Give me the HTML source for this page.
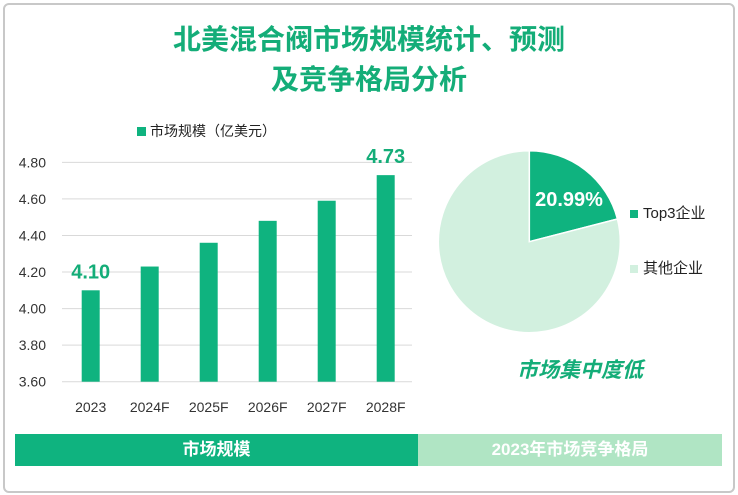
<!DOCTYPE html>
<html><head><meta charset="utf-8">
<style>
body{margin:0;width:738px;height:495px;background:#fff;font-family:"Liberation Sans","Noto Sans CJK SC",sans-serif;overflow:hidden;position:relative}
.abs{position:absolute}
</style></head><body>
<div class="abs" style="left:3px;top:3px;width:728px;height:486px;border:2px solid #c8c8c8;border-radius:6px"></div>
<div class="abs" style="left:0;width:738px;top:20px;text-align:center;color:#14ad78;font-weight:bold;font-size:28px;line-height:40px">北美混合阀市场规模统计、预测<br>及竞争格局分析</div>
<svg class="abs" style="left:0;top:0" width="738" height="495" id="svg">
<g id="bars"></g>
<g id="pie"></g>
</svg>
<div class="abs" style="left:137px;top:121px;font-size:14px;color:#222"><span style="display:inline-block;width:9px;height:9px;background:#0fb37f;margin-right:4px"></span>市场规模（亿美元）</div>
<div class="abs" style="left:630px;top:202px;font-size:15px;color:#222"><span style="display:inline-block;width:8px;height:8px;background:#0fb37f;margin-right:5px"></span>Top3企业</div>
<div class="abs" style="left:630px;top:257px;font-size:15px;color:#222"><span style="display:inline-block;width:8px;height:8px;background:#d2f0df;margin-right:5px"></span>其他企业</div>
<div class="abs" style="left:500px;top:354px;width:160px;text-align:center;font-size:21px;font-weight:bold;font-style:italic;color:#14ad78">市场集中度低</div>
<div class="abs" style="left:15px;top:434px;width:403px;height:32px;background:#0fb37f;color:#fff;font-weight:bold;font-size:17px;line-height:32px;text-align:center">市场规模</div>
<div class="abs" style="left:418px;top:434px;width:304px;height:32px;background:#b0e5c4;color:#fff;font-weight:bold;font-size:17px;line-height:32px;text-align:center">2023年市场竞争格局</div>
<script>
const categories=["2023","2024F","2025F","2026F","2027F","2028F"];
const values=[4.10,4.23,4.36,4.48,4.59,4.73];
const yTicks=[3.60,3.80,4.00,4.20,4.40,4.60,4.80];
const pieLabels=["Top3企业","其他企业"];
const pieValues=[20.99,79.01];
const NS="http://www.w3.org/2000/svg";
function mk(t,a,p){const e=document.createElementNS(NS,t);for(const k in a)e.setAttribute(k,a[k]);p.appendChild(e);return e;}
const y=v=>381.7-(v-3.6)*182.8;
const x=i=>90.7+i*59;
const bars=document.getElementById('bars');
yTicks.forEach(t=>{
 const l=mk('line',{x1:62,x2:412,y1:y(t),y2:y(t),stroke:'#d9d9d9','stroke-width':1},bars);
 
 
 const tx=mk('text',{x:46,y:y(t)+5,'text-anchor':'end','font-size':14,fill:'#333'},bars);
 tx.textContent=t.toFixed(2);
 
 
});
values.forEach((v,i)=>{
 const r=mk('rect',{x:x(i)-9,y:y(v),width:18,height:y(3.6)-y(v),fill:'#0fb37f'},bars);
 
 
 const c=mk('text',{x:x(i),y:412,'text-anchor':'middle','font-size':14,fill:'#333'},bars);
 c.textContent=categories[i];
 
 
 if(i===0||i===values.length-1){
  const d=mk('text',{x:x(i),y:y(v)-12,'text-anchor':'middle','font-size':20,'font-weight':'bold',fill:'#14ad78'},bars);
  d.textContent=v.toFixed(2);
  
  
 }
});
const pie=document.getElementById('pie');
const cx=529.3,cy=241.7,R=91;const total=pieValues.reduce((a,b)=>a+b,0);
let a0=-Math.PI/2;const cols=['#0fb37f','#d2f0df'];
pieValues.forEach((v,i)=>{
 const a1=a0+v/total*2*Math.PI;
 const large=(a1-a0)>Math.PI?1:0;
 const p=mk('path',{d:`M${cx},${cy}L${cx+R*Math.cos(a0)},${cy+R*Math.sin(a0)}A${R},${R} 0 ${large} 1 ${cx+R*Math.cos(a1)},${cy+R*Math.sin(a1)}Z`,fill:cols[i],stroke:'#fff','stroke-width':1.5},pie);
 
 
 a0=a1;
});
const pl=mk('text',{x:569,y:206,'text-anchor':'middle','font-size':20,'font-weight':'bold',fill:'#fff'},pie);
pl.textContent=pieValues[0].toFixed(2)+'%';


</script>
</body></html>
